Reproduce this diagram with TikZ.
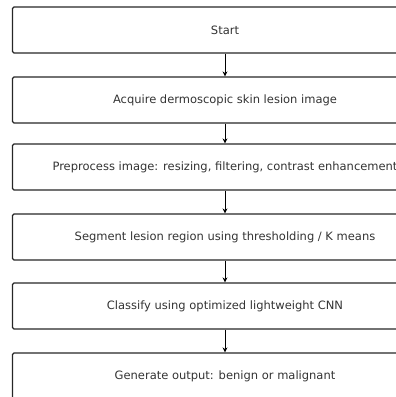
\documentclass[tikz,border=0pt]{standalone}
\usepackage{fontspec}
\setmainfont{DejaVu Sans}
\usetikzlibrary{arrows.meta}

\begin{document}
\begin{tikzpicture}[x=1pt,y=-1pt]

        \useasboundingbox (0,0) rectangle (396,397);
        \clip (0,0) rectangle (396,397);

        \begin{scope}[every node/.style={draw=black!85, line width=1.2pt, rounded corners=1.5pt,
            minimum width=425pt, minimum height=46pt, inner sep=0pt,
            text=black!80, font=\fontsize{11.5}{13}\selectfont}]
          \node (1) at (225,30)  {Start};
          \node (2) at (225,100) {Acquire dermoscopic skin lesion image};
          \node (3) at (225,167) {Preprocess image: resizing, filtering, contrast enhancement};
          \node (4) at (225,237) {Segment lesion region using thresholding / K means};
          \node (5) at (225,306) {Classify using optimized lightweight CNN};
          \node (6) at (225,376) {Generate output: benign or malignant};
        \end{scope}

        \begin{scope}[every edge/.style={draw, line width=0.9pt, -{Stealth[length=5pt,width=5pt]}}]
          \path (1) edge (2);
          \path (2) edge (3);
          \path (3) edge (4);
          \path (4) edge (5);
          \path (5) edge (6);
        \end{scope}

      \end{tikzpicture}
\end{document}
